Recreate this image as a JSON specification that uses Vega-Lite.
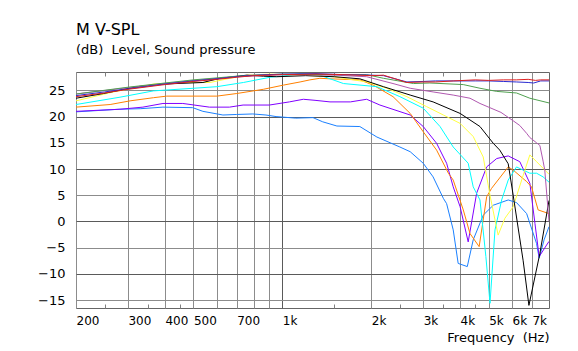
{
"$schema": "https://vega.github.io/schema/vega-lite/v6.json",
"width": 473, "height": 236,
"autosize": {"type": "none"},
"padding": {"left": 76, "top": 72, "right": 29, "bottom": 43},
"background": "white",
"config": {"view": {"stroke": "#666666", "strokeWidth": 1}, "font": "DejaVu Sans"},
"title": {"text": "M V-SPL", "subtitle": "(dB)\u00a0\u00a0Level, Sound pressure", "anchor": "start", "frame": "group", "offset": 15, "subtitlePadding": 6, "font": "DejaVu Sans", "fontSize": 16, "fontWeight": "normal", "color": "#000000", "subtitleFont": "DejaVu Sans", "subtitleFontSize": 13, "subtitleColor": "#000000"},
"datasets": {"curves": [
{"s":"c1","f":200,"db":20.9},{"s":"c1","f":280,"db":21.4},{"s":"c1","f":330,"db":21.5},{"s":"c1","f":394,"db":21.8},{"s":"c1","f":497,"db":21.7},{"s":"c1","f":538,"db":21.0},{"s":"c1","f":629,"db":20.3},{"s":"c1","f":700,"db":20.4},{"s":"c1","f":794,"db":20.5},{"s":"c1","f":880,"db":20.3},{"s":"c1","f":952,"db":20.0},{"s":"c1","f":1110,"db":19.7},{"s":"c1","f":1270,"db":19.8},{"s":"c1","f":1370,"db":19.0},{"s":"c1","f":1530,"db":18.2},{"s":"c1","f":1830,"db":18.1},{"s":"c1","f":2090,"db":16.1},{"s":"c1","f":2500,"db":14.2},{"s":"c1","f":2710,"db":13.3},{"s":"c1","f":3000,"db":11.1},{"s":"c1","f":3240,"db":8.5},{"s":"c1","f":3510,"db":4.4},{"s":"c1","f":3600,"db":3.4},{"s":"c1","f":3790,"db":-1.6},{"s":"c1","f":3940,"db":-8.0},{"s":"c1","f":4230,"db":-8.6},{"s":"c1","f":4430,"db":-3.5},{"s":"c1","f":4790,"db":1.2},{"s":"c1","f":5180,"db":3.1},{"s":"c1","f":5820,"db":4.1},{"s":"c1","f":6210,"db":3.6},{"s":"c1","f":6720,"db":1.5},{"s":"c1","f":7260,"db":-4.2},{"s":"c1","f":7410,"db":-7.0},{"s":"c1","f":7700,"db":-3.5},{"s":"c1","f":8000,"db":-1.0},
{"s":"c2","f":200,"db":21.0},{"s":"c2","f":282,"db":21.4},{"s":"c2","f":337,"db":21.8},{"s":"c2","f":394,"db":22.5},{"s":"c2","f":460,"db":22.5},{"s":"c2","f":566,"db":21.8},{"s":"c2","f":662,"db":21.8},{"s":"c2","f":736,"db":22.2},{"s":"c2","f":904,"db":22.2},{"s":"c2","f":1056,"db":22.8},{"s":"c2","f":1178,"db":23.3},{"s":"c2","f":1290,"db":23.1},{"s":"c2","f":1450,"db":22.8},{"s":"c2","f":1700,"db":22.8},{"s":"c2","f":1930,"db":23.3},{"s":"c2","f":2140,"db":22.2},{"s":"c2","f":2710,"db":20.3},{"s":"c2","f":3000,"db":18.1},{"s":"c2","f":3330,"db":14.9},{"s":"c2","f":3600,"db":11.1},{"s":"c2","f":3790,"db":6.6},{"s":"c2","f":4000,"db":2.8},{"s":"c2","f":4260,"db":-3.9},{"s":"c2","f":4550,"db":5.4},{"s":"c2","f":4920,"db":10.4},{"s":"c2","f":5320,"db":12.0},{"s":"c2","f":5820,"db":12.5},{"s":"c2","f":6370,"db":11.4},{"s":"c2","f":6890,"db":7.3},{"s":"c2","f":7170,"db":-0.4},{"s":"c2","f":7410,"db":-6.7},{"s":"c2","f":7850,"db":-4.5},{"s":"c2","f":8000,"db":-3.8},
{"s":"c3","f":200,"db":21.8},{"s":"c3","f":261,"db":22.3},{"s":"c3","f":305,"db":23.0},{"s":"c3","f":366,"db":23.6},{"s":"c3","f":406,"db":23.9},{"s":"c3","f":600,"db":23.9},{"s":"c3","f":701,"db":24.4},{"s":"c3","f":862,"db":25.2},{"s":"c3","f":1008,"db":26.0},{"s":"c3","f":1148,"db":26.6},{"s":"c3","f":1240,"db":27.0},{"s":"c3","f":1340,"db":27.3},{"s":"c3","f":1450,"db":27.2},{"s":"c3","f":1830,"db":27.0},{"s":"c3","f":2030,"db":26.0},{"s":"c3","f":2370,"db":23.8},{"s":"c3","f":2710,"db":20.6},{"s":"c3","f":3000,"db":17.1},{"s":"c3","f":3330,"db":13.6},{"s":"c3","f":3650,"db":9.2},{"s":"c3","f":3790,"db":7.9},{"s":"c3","f":4100,"db":2.2},{"s":"c3","f":4320,"db":-2.3},{"s":"c3","f":4640,"db":-4.8},{"s":"c3","f":4920,"db":4.7},{"s":"c3","f":5110,"db":6.3},{"s":"c3","f":5820,"db":10.4},{"s":"c3","f":6050,"db":9.8},{"s":"c3","f":6720,"db":7.6},{"s":"c3","f":6980,"db":6.6},{"s":"c3","f":7350,"db":2.2},{"s":"c3","f":8000,"db":1.5},
{"s":"c4","f":200,"db":22.3},{"s":"c4","f":282,"db":23.7},{"s":"c4","f":366,"db":24.9},{"s":"c4","f":500,"db":25.4},{"s":"c4","f":600,"db":25.7},{"s":"c4","f":738,"db":26.5},{"s":"c4","f":909,"db":27.5},{"s":"c4","f":1062,"db":27.9},{"s":"c4","f":1148,"db":28.2},{"s":"c4","f":1340,"db":27.9},{"s":"c4","f":1610,"db":26.3},{"s":"c4","f":2090,"db":25.7},{"s":"c4","f":2500,"db":23.8},{"s":"c4","f":3000,"db":21.6},{"s":"c4","f":3420,"db":18.1},{"s":"c4","f":3790,"db":14.2},{"s":"c4","f":4260,"db":11.1},{"s":"c4","f":4430,"db":6.6},{"s":"c4","f":4670,"db":4.1},{"s":"c4","f":4890,"db":-6.7},{"s":"c4","f":5050,"db":-15.6},{"s":"c4","f":5250,"db":-1.6},{"s":"c4","f":5530,"db":4.1},{"s":"c4","f":5820,"db":7.9},{"s":"c4","f":6210,"db":10.4},{"s":"c4","f":6540,"db":9.8},{"s":"c4","f":6890,"db":9.2},{"s":"c4","f":7260,"db":9.2},{"s":"c4","f":7640,"db":8.5},{"s":"c4","f":8000,"db":7.5},
{"s":"c5","f":200,"db":23.0},{"s":"c5","f":268,"db":24.7},{"s":"c5","f":366,"db":26.2},{"s":"c5","f":450,"db":26.5},{"s":"c5","f":569,"db":26.5},{"s":"c5","f":665,"db":27.3},{"s":"c5","f":758,"db":27.9},{"s":"c5","f":909,"db":28.1},{"s":"c5","f":1148,"db":27.9},{"s":"c5","f":1490,"db":27.6},{"s":"c5","f":1930,"db":26.6},{"s":"c5","f":2260,"db":25.4},{"s":"c5","f":2640,"db":23.8},{"s":"c5","f":3080,"db":21.9},{"s":"c5","f":3510,"db":20.3},{"s":"c5","f":4000,"db":18.7},{"s":"c5","f":4430,"db":16.2},{"s":"c5","f":4790,"db":12.3},{"s":"c5","f":5050,"db":5.0},{"s":"c5","f":5250,"db":0.3},{"s":"c5","f":5380,"db":-2.6},{"s":"c5","f":5670,"db":0.6},{"s":"c5","f":6050,"db":2.8},{"s":"c5","f":6540,"db":8.8},{"s":"c5","f":6890,"db":12.7},{"s":"c5","f":7260,"db":11.4},{"s":"c5","f":8000,"db":9.0},
{"s":"c6","f":200,"db":23.5},{"s":"c6","f":248,"db":24.4},{"s":"c6","f":322,"db":25.7},{"s":"c6","f":396,"db":26.2},{"s":"c6","f":538,"db":26.5},{"s":"c6","f":615,"db":27.3},{"s":"c6","f":758,"db":27.9},{"s":"c6","f":862,"db":27.7},{"s":"c6","f":957,"db":27.6},{"s":"c6","f":1200,"db":27.8},{"s":"c6","f":1500,"db":27.6},{"s":"c6","f":1830,"db":27.2},{"s":"c6","f":2200,"db":25.7},{"s":"c6","f":2710,"db":24.1},{"s":"c6","f":3240,"db":22.8},{"s":"c6","f":4000,"db":20.6},{"s":"c6","f":4670,"db":18.1},{"s":"c6","f":5180,"db":14.9},{"s":"c6","f":5450,"db":13.6},{"s":"c6","f":5820,"db":11.0},{"s":"c6","f":6050,"db":5.0},{"s":"c6","f":6540,"db":-7.5},{"s":"c6","f":6840,"db":-16.0},{"s":"c6","f":7450,"db":-6.1},{"s":"c6","f":8000,"db":4.0},
{"s":"c7","f":200,"db":24.3},{"s":"c7","f":300,"db":25.5},{"s":"c7","f":400,"db":26.3},{"s":"c7","f":500,"db":26.9},{"s":"c7","f":700,"db":27.6},{"s":"c7","f":1000,"db":28.0},{"s":"c7","f":1500,"db":27.9},{"s":"c7","f":1930,"db":27.6},{"s":"c7","f":2370,"db":26.3},{"s":"c7","f":2710,"db":25.4},{"s":"c7","f":3240,"db":24.7},{"s":"c7","f":3790,"db":24.1},{"s":"c7","f":4320,"db":23.5},{"s":"c7","f":4670,"db":22.5},{"s":"c7","f":5500,"db":20.8},{"s":"c7","f":6050,"db":19.2},{"s":"c7","f":6370,"db":18.3},{"s":"c7","f":6720,"db":16.8},{"s":"c7","f":6890,"db":16.0},{"s":"c7","f":7260,"db":15.0},{"s":"c7","f":7450,"db":14.5},{"s":"c7","f":7640,"db":11.5},{"s":"c7","f":7740,"db":9.8},{"s":"c7","f":8000,"db":0.0},
{"s":"c8","f":200,"db":24.3},{"s":"c8","f":300,"db":25.6},{"s":"c8","f":400,"db":26.4},{"s":"c8","f":500,"db":27.0},{"s":"c8","f":700,"db":27.7},{"s":"c8","f":1000,"db":28.1},{"s":"c8","f":1500,"db":28.0},{"s":"c8","f":1930,"db":28.0},{"s":"c8","f":2200,"db":27.3},{"s":"c8","f":2780,"db":26.3},{"s":"c8","f":3160,"db":26.4},{"s":"c8","f":4100,"db":26.1},{"s":"c8","f":4670,"db":25.4},{"s":"c8","f":5320,"db":24.8},{"s":"c8","f":6210,"db":24.5},{"s":"c8","f":6890,"db":23.5},{"s":"c8","f":8000,"db":22.6},
{"s":"c9","f":200,"db":24.0},{"s":"c9","f":250,"db":24.7},{"s":"c9","f":300,"db":25.3},{"s":"c9","f":400,"db":26.2},{"s":"c9","f":500,"db":26.8},{"s":"c9","f":600,"db":27.2},{"s":"c9","f":700,"db":27.6},{"s":"c9","f":800,"db":27.9},{"s":"c9","f":1000,"db":28.1},{"s":"c9","f":1300,"db":28.2},{"s":"c9","f":1600,"db":28.0},{"s":"c9","f":2000,"db":27.9},{"s":"c9","f":2200,"db":27.8},{"s":"c9","f":2640,"db":26.6},{"s":"c9","f":3000,"db":26.7},{"s":"c9","f":3300,"db":26.8},{"s":"c9","f":4000,"db":26.8},{"s":"c9","f":4500,"db":26.8},{"s":"c9","f":5000,"db":26.8},{"s":"c9","f":5600,"db":26.7},{"s":"c9","f":6200,"db":26.6},{"s":"c9","f":6800,"db":26.5},{"s":"c9","f":7100,"db":26.4},{"s":"c9","f":7500,"db":26.8},{"s":"c9","f":8000,"db":26.8},
{"s":"c10","f":200,"db":23.8},{"s":"c10","f":250,"db":24.5},{"s":"c10","f":300,"db":25.2},{"s":"c10","f":400,"db":26.1},{"s":"c10","f":500,"db":26.7},{"s":"c10","f":600,"db":27.1},{"s":"c10","f":700,"db":27.5},{"s":"c10","f":800,"db":27.8},{"s":"c10","f":1000,"db":28.0},{"s":"c10","f":1300,"db":28.1},{"s":"c10","f":1600,"db":28.0},{"s":"c10","f":2000,"db":27.8},{"s":"c10","f":2200,"db":27.9},{"s":"c10","f":2640,"db":26.5},{"s":"c10","f":3000,"db":26.6},{"s":"c10","f":3300,"db":26.6},{"s":"c10","f":3800,"db":26.8},{"s":"c10","f":4500,"db":27.0},{"s":"c10","f":5000,"db":26.9},{"s":"c10","f":5600,"db":27.0},{"s":"c10","f":6200,"db":27.0},{"s":"c10","f":6800,"db":27.1},{"s":"c10","f":7200,"db":26.9},{"s":"c10","f":7500,"db":27.0},{"s":"c10","f":8000,"db":27.0}
]},
"data": {"name": "curves"},
"layer": [
{"mark": {"type": "line", "strokeWidth": 1, "clip": true},
 "encoding": {
  "x": {"field": "f", "type": "quantitative", "scale": {"type": "log", "domain": [200, 8000], "nice": false},
   "axis": {"orient": "bottom", "values": [200,250,300,350,400,450,500,600,700,800,900,1000,1500,2000,2500,3000,3500,4000,4500,5000,6000,7000],
    "grid": true,
    "gridColor": {"condition": {"test": "datum.value == 1000", "value": "#5a5a5a"}, "value": "#8c8c8c"},
    "gridOpacity": {"condition": {"test": "indexof([250,350,450,1500,2500,3500,4500], datum.value) >= 0", "value": 0}, "value": 1},
    "ticks": true,
    "tickSize": {"condition": {"test": "indexof([250,350,450,1500,2500,3500,4500], datum.value) >= 0", "value": -4}, "value": 0},
    "tickColor": "#808080",
    "domain": false,
    "labelExpr": "indexof([250,350,450,1500,2500,3500,4500,600,800,900], datum.value) >= 0 ? '' : (datum.value >= 1000 ? (datum.value/1000) + 'k' : '' + datum.value)",
    "labelAlign": "left", "labelBaseline": "alphabetic", "labelPadding": 16.5,
    "labelFont": "DejaVu Sans", "labelFontSize": 12, "labelColor": "#000000",
    "labelFlush": false, "labelOverlap": false,
    "title": "Frequency\u00a0\u00a0(Hz)",
    "titleFont": "DejaVu Sans", "titleFontSize": 13, "titleFontWeight": "normal", "titleColor": "#000000",
    "titleAnchor": "end", "titleAlign": "right", "titleBaseline": "alphabetic", "titleX": 473, "titleY": 33.7}},
  "y": {"field": "db", "type": "quantitative", "scale": {"domain": [-16.5, 28.5], "nice": false, "zero": false},
   "axis": {"values": [-15,-10,-5,0,5,10,15,20,25], "grid": true,
    "gridColor": {"condition": {"test": "datum.value % 10 == 0", "value": "#5a5a5a"}, "value": "#8c8c8c"},
    "ticks": false, "domain": false,
    "labelFont": "DejaVu Sans", "labelFontSize": 13, "labelColor": "#000000", "labelPadding": 11,
    "labelAlign": "right", "labelBaseline": "middle", "labelFlush": false, "labelOverlap": false, "title": null}},
  "color": {"field": "s", "type": "nominal",
   "scale": {"domain": ["c1","c2","c3","c4","c5","c6","c7","c8","c9","c10"],
    "range": ["#1a80ff","#8000ff","#ff8000","#00ffff","#ffff40","#000000","#b058b0","#50a050","#2a2ad0","#dd2020"]},
   "legend": null}
 }},
{"mark": {"type": "rule", "opacity": 0},
 "encoding": {
  "x": {"field": "f", "type": "quantitative",
   "axis": {"orient": "top", "values": [250,350,450,1500,2500,3500,4500], "grid": false, "ticks": true, "tickSize": -4, "tickColor": "#808080", "domain": false, "labels": false, "title": null}}
 }}
],
"resolve": {"axis": {"x": "independent"}}
}
